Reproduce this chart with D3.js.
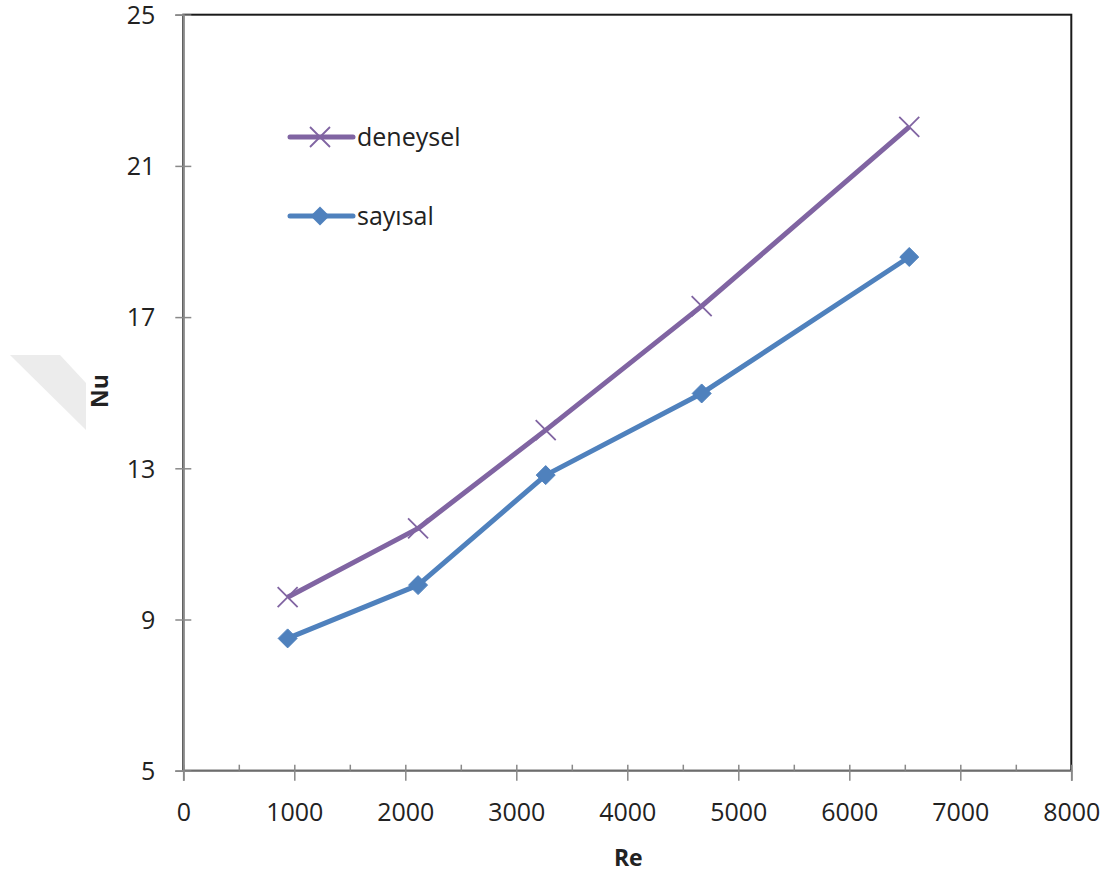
<!DOCTYPE html>
<html>
<head>
<meta charset="utf-8">
<script src="https://cdn.jsdelivr.net/npm/d3@7/dist/d3.min.js"></script>
<style>
  html, body { margin: 0; padding: 0; background: #fff; }
  svg { display: block; font-family: "Open Sans", "Noto Sans", sans-serif; }
</style>
</head>
<body>
<svg id="chart" width="1110" height="874"></svg>
<script>
// Reynolds numbers of the measured / simulated cases
const reValues = [940, 2115, 3265, 4670, 6540];
// Nusselt number, experimental
const nuDeneysel = [9.59, 11.41, 14.01, 17.29, 22.03];
// Nusselt number, numerical
const nuSayisal = [8.50, 9.91, 12.82, 14.98, 18.59];
// Axis ticks
const xMajorTicks = [0, 1000, 2000, 3000, 4000, 5000, 6000, 7000, 8000];
const xMinorTicks = [500, 1500, 2500, 3500, 4500, 5500, 6500, 7500];
const yTicks = [5, 9, 13, 17, 21, 25];
const seriesNames = ["deneysel", "sayısal"];

const svg = d3.select("#chart");
const plotLeft = 183.3, plotRight = 1071.3, plotTop = 14.7, plotBottom = 770.7;

const x = d3.scaleLinear().domain([0, 8000]).range([plotLeft, plotRight]);
const y = d3.scaleLinear().domain([5, 25]).range([plotBottom, plotTop]);

const purple = "#8064A2";
const blue = "#4F81BD";
const axisGrey = "#898989";

// faint grey wedge at the left edge
svg.append("polygon")
  .attr("points", "10,355 60,355 86,383 86,430")
  .attr("fill", "#ececec");

// plot-area frame (top and right edges stay visible)
svg.append("rect")
  .attr("x", plotLeft).attr("y", plotTop)
  .attr("width", plotRight - plotLeft).attr("height", plotBottom - plotTop)
  .attr("fill", "none").attr("stroke", "#1a1a1a").attr("stroke-width", 2);

// X axis: major ticks cross the axis line, minor ticks point inward
const xAxis = svg.append("g")
  .attr("transform", `translate(0,${plotBottom})`)
  .call(d3.axisBottom(x).tickValues(xMajorTicks).tickSizeOuter(0).tickSize(10).tickPadding(0).tickFormat(d3.format("d")));
xAxis.select(".domain").attr("stroke", axisGrey).attr("stroke-width", 1.8);
xAxis.selectAll(".tick line").attr("stroke", axisGrey).attr("stroke-width", 1.5).attr("y1", -6).attr("y2", 10);
xAxis.selectAll(".tick text")
  .attr("y", 50).attr("dy", 0)
  .attr("fill", "#222").attr("font-size", 25)
  .attr("font-family", "'Open Sans', sans-serif");

const xMinor = svg.append("g")
  .attr("transform", `translate(0,${plotBottom})`)
  .call(d3.axisBottom(x).tickValues(xMinorTicks).tickSizeOuter(0).tickSize(-6).tickFormat(""));
xMinor.select(".domain").remove();
xMinor.selectAll(".tick line").attr("stroke", axisGrey).attr("stroke-width", 1.5);

// Y axis
const yAxis = svg.append("g")
  .attr("transform", `translate(${plotLeft},0)`)
  .call(d3.axisLeft(y).tickValues(yTicks).tickSizeOuter(0).tickSize(8).tickPadding(0));
yAxis.select(".domain").attr("stroke", axisGrey).attr("stroke-width", 1.8);
yAxis.selectAll(".tick line").attr("stroke", axisGrey).attr("stroke-width", 1.5).attr("x1", 8).attr("x2", -8);
yAxis.selectAll(".tick text")
  .attr("x", -28).attr("dy", "0.35em")
  .attr("fill", "#222").attr("font-size", 25)
  .attr("font-family", "'Open Sans', sans-serif");

// axis titles
svg.append("text")
  .attr("x", (x(0) + x(8000)) / 2 + 1).attr("y", 866)
  .attr("text-anchor", "middle")
  .attr("font-size", 23).attr("font-weight", "bold").attr("fill", "#222")
  .text("Re");
svg.append("text")
  .attr("transform", "translate(108,391) rotate(-90)")
  .attr("text-anchor", "middle")
  .attr("font-size", 23).attr("font-weight", "bold").attr("fill", "#222")
  .text("Nu");

const line = d3.line().x(d => x(d[0])).y(d => y(d[1]));
const deneyselPts = reValues.map((r, i) => [r, nuDeneysel[i]]);
const sayisalPts = reValues.map((r, i) => [r, nuSayisal[i]]);

// experimental series: thick line with X markers
svg.append("path").datum(deneyselPts)
  .attr("d", line).attr("fill", "none")
  .attr("stroke", purple).attr("stroke-width", 5).attr("stroke-linejoin", "round");
const crossPath = "M-10,-10L10,10M-10,10L10,-10";
svg.selectAll(".cross").data(deneyselPts).enter().append("path")
  .attr("transform", d => `translate(${x(d[0])},${y(d[1])})`)
  .attr("d", crossPath).attr("stroke", purple).attr("stroke-width", 1.8).attr("fill", "none");

// numerical series: thick line with diamond markers
svg.append("path").datum(sayisalPts)
  .attr("d", line).attr("fill", "none")
  .attr("stroke", blue).attr("stroke-width", 5).attr("stroke-linejoin", "round");
const diamond = d3.symbol().type(d3.symbolDiamond2).size(230);
svg.selectAll(".diamond").data(sayisalPts).enter().append("path")
  .attr("transform", d => `translate(${x(d[0])},${y(d[1])})`)
  .attr("d", diamond).attr("fill", blue).attr("stroke", blue).attr("stroke-width", 1);

// legend
const legend = svg.append("g");
const legendRows = [
  { name: seriesNames[0], color: purple, y: 137, marker: "cross" },
  { name: seriesNames[1], color: blue, y: 216, marker: "diamond" }
];
legendRows.forEach(r => {
  legend.append("line")
    .attr("x1", 290).attr("x2", 353).attr("y1", r.y).attr("y2", r.y)
    .attr("stroke", r.color).attr("stroke-width", 5).attr("stroke-linecap", "round");
  if (r.marker === "cross") {
    legend.append("path").attr("transform", `translate(320,${r.y})`)
      .attr("d", crossPath).attr("stroke", r.color).attr("stroke-width", 1.8);
  } else {
    legend.append("path").attr("transform", `translate(320,${r.y})`)
      .attr("d", diamond).attr("fill", r.color);
  }
  legend.append("text")
    .attr("x", 357).attr("y", r.y).attr("dy", "0.35em")
    .attr("font-size", 25).attr("fill", "#222")
    .text(r.name);
});
</script>
</body>
</html>
